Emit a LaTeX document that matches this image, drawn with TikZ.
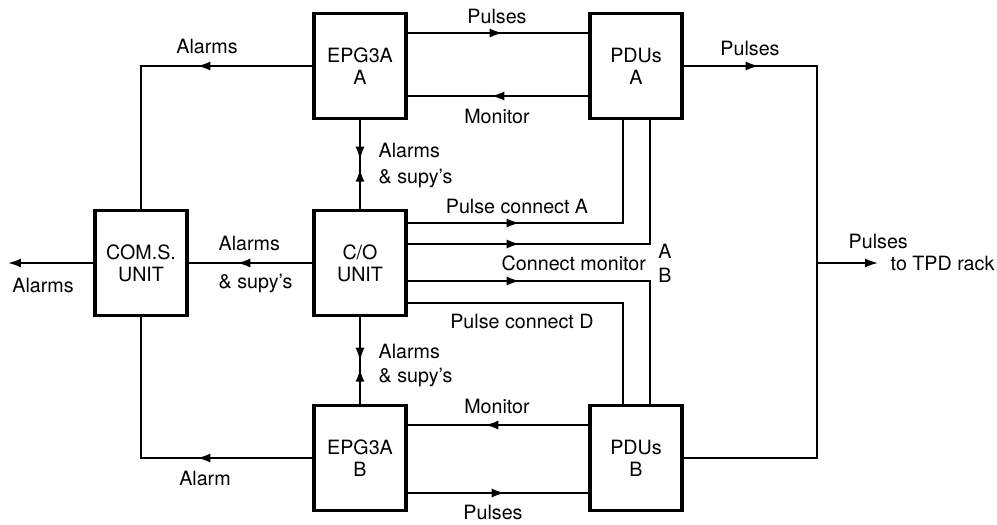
\documentclass[tikz,border=0pt]{standalone}
\usepackage{fontspec}
\setmainfont{TeX Gyre Heros}
\usepackage{tikz}
\usetikzlibrary{arrows.meta,decorations.markings}

\tikzset{
    >={Latex[length=2.6mm,width=1.8mm]},
    unit/.style={draw, line width=2pt, minimum width=1.84cm, minimum height=2.1cm, align=center, inner sep=0pt},
    lbl/.style={anchor=base},
    flow/.style={postaction={decorate}, decoration={markings, mark=at position #1 with {\arrow{>}}}},
    meet/.style 2 args={postaction={decorate}, decoration={markings,
        mark=at position #1 with {\arrow{>}}, mark=at position #2 with {\arrowreversed{>}}}}
}

\begin{document}
\begin{tikzpicture}[x=0.02cm, y=-0.02cm, line width=1pt,
    every node/.style={font=\fontsize{11.2}{12.5}\selectfont}]
    \useasboundingbox (0,0) rectangle (997,524);

    % Units
    \node[unit] (com) at (141,263) {COM.S.\\UNIT};
    \node[unit] (epgA) at (360,66) {EPG3A\\A};
    \node[unit] (pduA) at (636,66) {PDUs\\A};
    \node[unit] (co) at (360,263) {C/O\\UNIT};
    \node[unit] (epgB) at (360,458) {EPG3A\\B};
    \node[unit] (pduB) at (636,458) {PDUs\\B};
    \coordinate (alarmout) at (8,263);
    \coordinate (bus) at (817,263);
    \coordinate (tpd) at (878,263);

    % EPG3A A and PDUs A
    \draw[flow=1.9cm] ([yshift=0.66cm]epgA.east) -- ([yshift=0.66cm]pduA.west);
    \draw[flow=1.94cm] ([yshift=-0.6cm]pduA.west) -- ([yshift=-0.6cm]epgA.east);

    % Pulses to TPD rack
    \draw[flow=1.5cm] (pduA.east) -| (bus);
    \draw (bus) |- (pduB.east);
    \draw[->] (bus) -- (tpd);

    % Alarms to COM.S.
    \draw[flow=2.3cm] (epgA.west) -| (com.north);
    \draw[flow=2.3cm] (epgB.west) -| (com.south);
    \draw[flow=1.5cm] (co.west) -- (com.east);
    \draw[->] (com.west) -- (alarmout);

    % Alarms & supy's
    \draw[meet={0.79cm}{0.97cm}] (epgA.south) -- (co.north);
    \draw[meet={0.87cm}{1.03cm}] (co.south) -- (epgB.north);

    % C/O to PDUs
    \draw[flow=2.24cm] ([yshift=0.8cm]co.east) -| ([xshift=-0.26cm]pduA.south);
    \draw[flow=2.24cm] ([yshift=0.38cm]co.east) -| ([xshift=0.28cm]pduA.south);
    \draw[flow=2.24cm] ([yshift=-0.36cm]co.east) -| ([xshift=0.28cm]pduB.north);
    \draw ([yshift=-0.8cm]co.east) -| ([xshift=-0.26cm]pduB.north);

    % EPG3A B and PDUs B
    \draw[flow=2.06cm] ([yshift=0.66cm]pduB.west) -- ([yshift=0.66cm]epgB.east);
    \draw[flow=1.94cm] ([yshift=-0.7cm]epgB.east) -- ([yshift=-0.7cm]pduB.west);

    % Labels
    \node[lbl] (pulsesA) at (497,23) {Pulses};
    \node[lbl] (monitorA) at (497,123) {Monitor};
    \node[lbl] (alarmsA) at (207,53) {Alarms};
    \node[lbl] (pulsesPA) at (750,55) {Pulses};
    \node[lbl, anchor=base west] (alarmsCO) at (212,250) {Alarms};
    \node[lbl, anchor=base west] (supysCO) at (212,288) {\& supy’s};
    \node[lbl] (alarmsOut) at (43,292) {Alarms};
    \node[lbl] (alarmB) at (205,485) {Alarm};
    \node[lbl, anchor=base west] (alarmsUp) at (372,157) {Alarms};
    \node[lbl, anchor=base west] (supysUp) at (372,183) {\& supy’s};
    \node[lbl, anchor=base west] (alarmsDn) at (372,358) {Alarms};
    \node[lbl, anchor=base west] (supysDn) at (372,382) {\& supy’s};
    \node[lbl] (connA) at (517,213) {Pulse connect A};
    \node[lbl, anchor=base west] (connMon) at (495,270) {Connect monitor};
    \node[lbl] (monA) at (665,258) {A};
    \node[lbl] (monB) at (665,282) {B};
    \node[lbl] (connD) at (522,328) {Pulse connect D};
    \node[lbl] (monitorB) at (497,413) {Monitor};
    \node[lbl] (pulsesB) at (493,519) {Pulses};
    \node[lbl, anchor=base west] (pulsesOut) at (842,248) {Pulses};
    \node[lbl, anchor=base west] (tpdrack) at (884,270) {to TPD rack};
\end{tikzpicture}
\end{document}
